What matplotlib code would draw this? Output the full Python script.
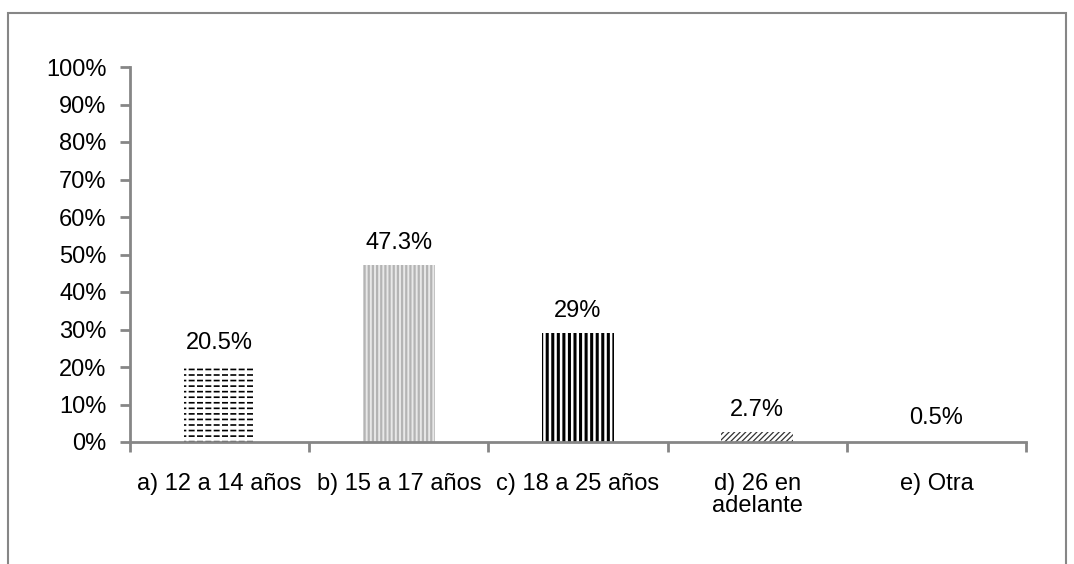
import matplotlib
matplotlib.use('Agg')
import matplotlib.pyplot as plt
from matplotlib.patches import Rectangle
from matplotlib.ticker import PercentFormatter

# Datos del gráfico
categorias = ['a) 12 a 14 años', 'b) 15 a 17 años', 'c) 18 a 25 años',
              'd) 26 en\nadelante', 'e) Otra']
porcentajes = [20.5, 47.3, 29.0, 2.7, 0.5]
etiquetas = ['20.5%', '47.3%', '29%', '2.7%', '0.5%']

# Estilo de cada barra (trama, fondo, color de trama, grosor de trama)
tramas = ['---', '||||', '|||', '//////', '']
fondos = ['white', '#e8e8e8', 'white', 'white', 'white']
colores_trama = ['black', '#b4b4b4', 'black', '#333333', 'black']
grosor_trama = [1.2, 1.6, 2.2, 0.9, 1.0]

plt.rcParams['font.family'] = ['Liberation Sans', 'DejaVu Sans']
gris = '#868686'
tam = 17

fig = plt.figure(figsize=(10.74, 5.64), dpi=100)
ax = fig.add_axes([130 / 1074, 1 - 442 / 564, (1026 - 130) / 1074, (442 - 67) / 564])

# Marco exterior del gráfico
fig.patches.append(Rectangle((8 / 1074, -0.05), (1066 - 8) / 1074, 1.05 - 13 / 564,
                             transform=fig.transFigure, fill=False,
                             edgecolor=gris, linewidth=1.5))

x = list(range(len(categorias)))
for i in x:
    with plt.rc_context({'hatch.linewidth': grosor_trama[i]}):
        ax.bar(i, porcentajes[i], width=0.4, color=fondos[i],
               edgecolor=colores_trama[i], hatch=tramas[i], linewidth=0)
    if i == 0:
        # cortar las lineas horizontales en guiones
        with plt.rc_context({'hatch.linewidth': 1.7}):
            ax.bar(i, porcentajes[i], width=0.4, color='none',
                   edgecolor='white', hatch='||', linewidth=0)
    ax.annotate(etiquetas[i], (i, porcentajes[i]), xytext=(0, 8),
                textcoords='offset points', ha='center', va='bottom', fontsize=tam)

ax.set_xlim(-0.5, len(categorias) - 0.5)
ax.set_ylim(0, 100)
ax.set_yticks(range(0, 101, 10))
ax.yaxis.set_major_formatter(PercentFormatter(decimals=0))

ax.set_xticks(x)
ax.set_xticklabels(categorias, fontsize=tam, linespacing=1.05)
ax.set_xticks([v - 0.5 for v in range(len(categorias) + 1)], minor=True)
ax.tick_params(axis='x', which='major', length=0, pad=22)
ax.tick_params(axis='x', which='minor', length=7, width=2, color=gris, direction='out')
ax.tick_params(axis='y', length=7, width=2, color=gris, labelsize=tam, pad=10)

for lado in ['top', 'right']:
    ax.spines[lado].set_visible(False)
for lado in ['left', 'bottom']:
    ax.spines[lado].set_color(gris)
    ax.spines[lado].set_linewidth(2)

fig.savefig('out.png', dpi=100)
